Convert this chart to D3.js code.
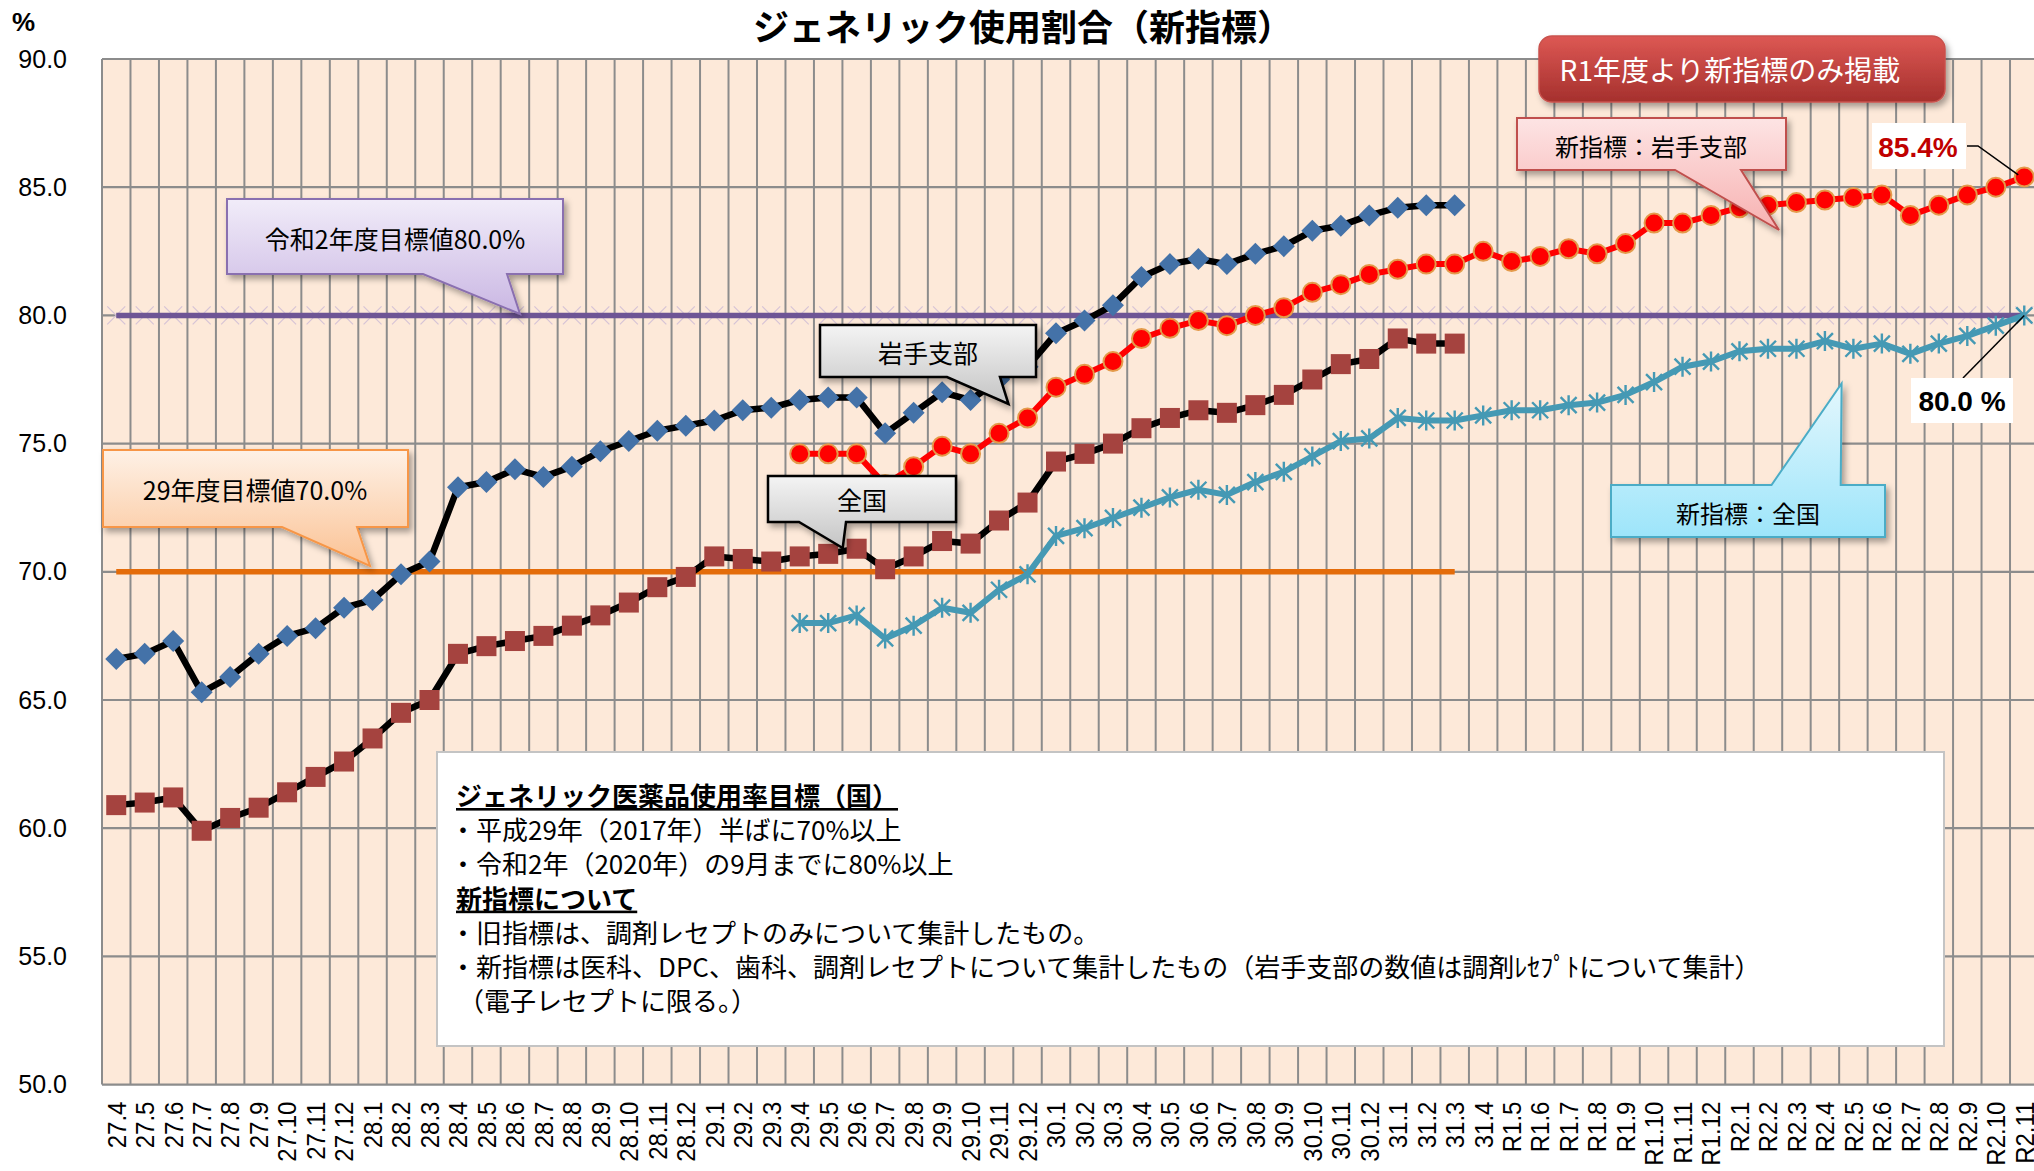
<!DOCTYPE html>
<html><head><meta charset="utf-8">
<script src="https://cdn.jsdelivr.net/npm/d3@7"></script>
<style>body{margin:0;background:#fff} svg{display:block}</style>
</head><body>
<svg id="chart" width="2034" height="1171"></svg>
<script>
// ---------------- DATA ----------------
const categories = [
  "27.4","27.5","27.6","27.7","27.8","27.9","27.10","27.11","27.12",
  "28.1","28.2","28.3","28.4","28.5","28.6","28.7","28.8","28.9","28.10","28.11","28.12",
  "29.1","29.2","29.3","29.4","29.5","29.6","29.7","29.8","29.9","29.10","29.11","29.12",
  "30.1","30.2","30.3","30.4","30.5","30.6","30.7","30.8","30.9","30.10","30.11","30.12",
  "31.1","31.2","31.3","31.4",
  "R1.5","R1.6","R1.7","R1.8","R1.9","R1.10","R1.11","R1.12",
  "R2.1","R2.2","R2.3","R2.4","R2.5","R2.6","R2.7","R2.8","R2.9","R2.10","R2.11"
];
// 旧指標 岩手支部 (27.4 - 31.3)
const iwateOld = [
  66.6,66.8,67.3,65.3,65.9,66.8,67.5,67.8,68.6,
  68.9,69.9,70.4,73.3,73.5,74.0,73.7,74.1,74.7,75.1,75.5,75.7,
  75.9,76.3,76.4,76.7,76.8,76.8,75.4,76.2,77.0,76.7,77.5,78.0,
  79.3,79.8,80.4,81.5,82.0,82.2,82.0,82.4,82.7,83.3,83.5,83.9,
  84.2,84.3,84.3
];
// 旧指標 全国 (27.4 - 31.3)
const nationalOld = [
  60.9,61.0,61.2,59.9,60.4,60.8,61.4,62.0,62.6,
  63.5,64.5,65.0,66.8,67.1,67.3,67.5,67.9,68.3,68.8,69.4,69.8,
  70.6,70.5,70.4,70.6,70.7,70.9,70.1,70.6,71.2,71.1,72.0,72.7,
  74.3,74.6,75.0,75.6,76.0,76.3,76.2,76.5,76.9,77.5,78.1,78.3,
  79.1,78.9,78.9
];
// 新指標 岩手支部 (29.4 - R2.11)
const iwateNew = [
  74.6,74.6,74.6,73.4,74.1,74.9,74.6,75.4,76.0,
  77.2,77.7,78.2,79.1,79.5,79.8,79.6,80.0,80.3,80.9,81.2,81.6,
  81.8,82.0,82.0,82.5,
  82.1,82.3,82.6,82.4,82.8,83.6,83.6,83.9,
  84.2,84.3,84.4,84.5,84.6,84.7,83.9,84.3,84.7,85.0,85.4
];
// 新指標 全国 (29.4 - R2.11)
const nationalNew = [
  68.0,68.0,68.3,67.4,67.9,68.6,68.4,69.3,69.9,
  71.4,71.7,72.1,72.5,72.9,73.2,73.0,73.5,73.9,74.5,75.1,75.2,
  76.0,75.9,75.9,76.1,
  76.3,76.3,76.5,76.6,76.9,77.4,78.0,78.2,
  78.6,78.7,78.7,79.0,78.7,78.9,78.5,78.9,79.2,79.6,80.0
];
const oldStart = "27.4";
const newStart = "29.4";
const target80 = {value: 80.0, from: "27.4", to: "R2.11"};
const target70 = {value: 70.0, from: "27.4", to: "31.3"};
const yTicks = [50,55,60,65,70,75,80,85,90];
const titleText = "ジェネリック使用割合（新指標）";
const noteLines = [
  {t:"ジェネリック医薬品使用率目標（国）", bold:true},
  {t:"・平成29年（2017年）半ばに70%以上"},
  {t:"・令和2年（2020年）の9月までに80%以上"},
  {t:"新指標について", bold:true},
  {t:"・旧指標は、調剤レセプトのみについて集計したもの。"},
  {t:"・新指標は医科、DPC、歯科、調剤レセプトについて集計したもの（岩手支部の数値は調剤ﾚｾﾌﾟﾄについて集計）"},
  {t:"（電子レセプトに限る。）", indent:true}
];

// ---------------- CHART ----------------
const svg = d3.select("#chart");
const plot = {left:102, right:2038.5, top:59, bottom:1084.6};
const x = d3.scaleBand().domain(categories).range([plot.left, plot.right]);
const cx = c => x(c) + x.bandwidth()/2;
const y = d3.scaleLinear().domain([50,90]).range([plot.bottom, plot.top]);
const JP = "'Noto Sans CJK JP','Noto Sans',sans-serif";
const LAT = "'Liberation Sans',Arial,sans-serif";

const defs = svg.append("defs");
function grad(id, c1, c2){
  const g = defs.append("linearGradient").attr("id",id).attr("x1",0).attr("y1",0).attr("x2",0).attr("y2",1);
  g.append("stop").attr("offset","0%").attr("stop-color",c1);
  g.append("stop").attr("offset","100%").attr("stop-color",c2);
}
grad("gPurple","#f1ecf9","#cab7e3");
grad("gOrange","#fef1e6","#fbc294");
grad("gGray","#f4f4f4","#c4c4c4");
grad("gPink","#fde4e4","#f7b1b1");
grad("gCyan","#e4f7fd","#9de5fa");
grad("gRed","#dd5854","#a5302d");
const f = defs.append("filter").attr("id","shadow").attr("x","-10%").attr("y","-10%").attr("width","130%").attr("height","140%");
f.append("feDropShadow").attr("dx",3).attr("dy",4).attr("stdDeviation",3).attr("flood-color","#000").attr("flood-opacity",0.35);

// background
svg.append("rect").attr("x",plot.left).attr("y",plot.top)
  .attr("width",plot.right-plot.left).attr("height",plot.bottom-plot.top).attr("fill","#fde9d9");

// grid
const vx = categories.map(c => x(c)).concat([plot.right]);
svg.append("g").selectAll("line").data(vx).join("line")
  .attr("x1",d=>d).attr("x2",d=>d).attr("y1",plot.top).attr("y2",plot.bottom)
  .attr("stroke","#8c8c8c").attr("stroke-width",2);
svg.append("g").selectAll("line").data(yTicks).join("line")
  .attr("x1",plot.left).attr("x2",plot.right).attr("y1",d=>y(d)).attr("y2",d=>y(d))
  .attr("stroke","#8c8c8c").attr("stroke-width",2.2);

// axes
const yAxis = svg.append("g").attr("transform",`translate(${plot.left},0)`)
  .call(d3.axisLeft(y).tickValues(yTicks).tickFormat(d3.format(".1f")).tickSize(0).tickPadding(35));
yAxis.select(".domain").remove();
yAxis.selectAll("text").attr("font-family",LAT).attr("font-size",25).attr("fill","#000");

const xAxis = svg.append("g").attr("transform",`translate(0,${plot.bottom})`)
  .call(d3.axisBottom(x).tickSize(0).tickPadding(0));
xAxis.select(".domain").remove();
xAxis.selectAll("text")
  .attr("x",0).attr("y",0).attr("dy","0.36em")
  .attr("transform","translate(0,17) rotate(-90) scale(1,1.08)")
  .attr("text-anchor","end")
  .attr("font-family",LAT).attr("font-size",24).attr("fill","#000");

// % label and title
svg.append("text").attr("x",12).attr("y",31).text("%")
  .attr("font-family",LAT).attr("font-weight","bold").attr("font-size",26);
svg.append("text").attr("x",1023).attr("y",41).attr("text-anchor","middle").text(titleText)
  .attr("font-family",JP).attr("font-weight","bold").attr("font-size",36);

// target lines
function rangeCats(from,to){ const a=categories.indexOf(from), b=categories.indexOf(to); return categories.slice(a,b+1); }
const t80cats = rangeCats(target80.from, target80.to);
const xm = svg.append("g").attr("stroke","#d6c3d6").attr("stroke-width",1.2);
t80cats.forEach(c => {
  const px = cx(c), py = y(target80.value);
  xm.append("line").attr("x1",px-9).attr("y1",py-9).attr("x2",px+9).attr("y2",py+9);
  xm.append("line").attr("x1",px-9).attr("y1",py+9).attr("x2",px+9).attr("y2",py-9);
});
const line = d3.line().x(d=>cx(d.c)).y(d=>y(d.v));
svg.append("path").datum(t80cats.map(c=>({c, v:target80.value})))
  .attr("d",line).attr("fill","none").attr("stroke","#6e5595").attr("stroke-width",5.5);
svg.append("path").datum(rangeCats(target70.from,target70.to).map(c=>({c, v:target70.value})))
  .attr("d",line).attr("fill","none").attr("stroke","#e46c0a").attr("stroke-width",5.5);

function toPts(arr, start){ const s = categories.indexOf(start); return arr.map((v,i)=>({c:categories[s+i], v})); }

// 新指標 全国
const nn = toPts(nationalNew, newStart);
svg.append("path").datum(nn).attr("d",line).attr("fill","none").attr("stroke","#4599b4").attr("stroke-width",6).attr("stroke-linejoin","round");
const star = svg.append("g").attr("stroke","#4599b4").attr("stroke-width",2.4);
nn.forEach(d => {
  const px=cx(d.c), py=y(d.v);
  star.append("path").attr("d",`M${px-8},${py-8}L${px+8},${py+8}M${px-8},${py+8}L${px+8},${py-8}M${px},${py-10}L${px},${py+10}`);
});

// 旧指標 全国
const no = toPts(nationalOld, oldStart);
svg.append("path").datum(no).attr("d",line).attr("fill","none").attr("stroke","#000").attr("stroke-width",6.5).attr("stroke-linejoin","round");
svg.append("g").selectAll("rect").data(no).join("rect")
  .attr("x",d=>cx(d.c)-10).attr("y",d=>y(d.v)-10).attr("width",20).attr("height",20)
  .attr("fill","#a5433f");

// 新指標 岩手支部
const ine = toPts(iwateNew, newStart);
svg.append("path").datum(ine).attr("d",line).attr("fill","none").attr("stroke","#ff0000").attr("stroke-width",6).attr("stroke-linejoin","round");
svg.append("g").selectAll("circle").data(ine).join("circle")
  .attr("cx",d=>cx(d.c)).attr("cy",d=>y(d.v)).attr("r",9.5)
  .attr("fill","#ff0000").attr("stroke","#e49a4a").attr("stroke-width",2);

// 旧指標 岩手支部
const io = toPts(iwateOld, oldStart);
svg.append("path").datum(io).attr("d",line).attr("fill","none").attr("stroke","#000").attr("stroke-width",6.5).attr("stroke-linejoin","round");
svg.append("g").selectAll("path").data(io).join("path")
  .attr("d",d=>{const px=cx(d.c), py=y(d.v); return `M${px},${py-11}L${px+11},${py}L${px},${py+11}L${px-11},${py}Z`;})
  .attr("fill","#4472a8");

// note box
const nb = svg.append("g");
nb.append("rect").attr("x",437).attr("y",752).attr("width",1507).attr("height",294)
  .attr("fill","#fff").attr("stroke","#c4c4c4").attr("stroke-width",2);
noteLines.forEach((l,i) => {
  nb.append("text").attr("x", l.bold ? 456 : (l.indent ? 458 : 450)).attr("y", 806 + i*34.2)
    .text(l.t).attr("font-family",JP).attr("font-size",26)
    .attr("font-weight", l.bold ? "bold" : "normal")
    .attr("text-decoration", l.bold ? "underline" : null)
    .attr("fill","#000");
});

// callouts
function callout(o){
  const [x0,y0,x1,y1] = o.box;
  const [a,tip,b] = o.tail;
  let d;
  if (o.side === "bottom") d = `M${x0},${y0}H${x1}V${y1}H${b[0]}L${tip[0]},${tip[1]}L${a[0]},${y1}H${x0}Z`;
  else d = `M${x0},${y0}H${a[0]}L${tip[0]},${tip[1]}L${b[0]},${y0}H${x1}V${y1}H${x0}Z`;
  const g = svg.append("g");
  g.append("path").attr("d",d).attr("fill",`url(#${o.fill})`).attr("stroke",o.stroke)
    .attr("stroke-width",o.sw||2).attr("stroke-linejoin","miter").attr("filter","url(#shadow)");
  g.append("text").attr("x",o.tx).attr("y",o.ty).attr("text-anchor","middle").attr("dominant-baseline","central")
    .text(o.text).attr("font-family",JP).attr("font-size",o.fs||25).attr("fill","#000");
}
callout({box:[227,199,563,274], tail:[[423,274],[520,314],[507,274]], side:"bottom", fill:"gPurple", stroke:"#8a6fb0",
  text:"令和2年度目標値80.0%", tx:395, ty:238});
callout({box:[103,450,408,527], tail:[[282,527],[370,566],[357,527]], side:"bottom", fill:"gOrange", stroke:"#f79646",
  text:"29年度目標値70.0%", tx:255, ty:489});
callout({box:[820,325,1036,377], tail:[[947,377],[1008.5,404],[1000,377]], side:"bottom", fill:"gGray", stroke:"#000", sw:2.5,
  text:"岩手支部", tx:928, ty:352});
callout({box:[768,476,956,522], tail:[[799,522],[842.7,548],[846,522]], side:"bottom", fill:"gGray", stroke:"#000", sw:2.5,
  text:"全国", tx:862, ty:499});
callout({box:[1517,118,1786,170], tail:[[1675,170],[1779,230],[1741,170]], side:"bottom", fill:"gPink", stroke:"#c0504d",
  text:"新指標：岩手支部", tx:1651, ty:145, fs:24});
callout({box:[1611,485,1885,537], tail:[[1771.5,485],[1841.6,383.5],[1840.7,485]], side:"top", fill:"gCyan", stroke:"#4bacc6",
  text:"新指標：全国", tx:1748, ty:512, fs:24});

// R1 banner
const r1 = svg.append("g");
r1.append("rect").attr("x",1539).attr("y",36).attr("width",406).attr("height",66).attr("rx",13)
  .attr("fill","url(#gRed)").attr("stroke","#c9524e").attr("stroke-width",1.5).attr("filter","url(#shadow)");
r1.append("text").attr("x",1730).attr("y",69).attr("text-anchor","middle").attr("dominant-baseline","central")
  .text("R1年度より新指標のみ掲載").attr("font-family",JP).attr("font-size",28).attr("fill","#fff");

// value labels
const lastCat = categories[categories.length-1];
const lastIw = iwateNew[iwateNew.length-1], lastNa = nationalNew[nationalNew.length-1];
svg.append("path").attr("d",`M1967,146H1978L${cx(lastCat)-6},${y(lastIw)-2}`).attr("fill","none").attr("stroke","#000").attr("stroke-width",1.5);
svg.append("rect").attr("x",1872).attr("y",123).attr("width",94).attr("height",46).attr("fill","#fff");
svg.append("text").attr("x",1918).attr("y",147).attr("text-anchor","middle").attr("dominant-baseline","central")
  .text(lastIw.toFixed(1)+"%").attr("font-family",LAT).attr("font-weight","bold").attr("font-size",28).attr("fill","#c00000");
svg.append("path").attr("d",`M1963,378L${cx(lastCat)},${y(lastNa)}`).attr("fill","none").attr("stroke","#000").attr("stroke-width",1.5);
svg.append("rect").attr("x",1911).attr("y",378).attr("width",102).attr("height",45).attr("fill","#fff");
svg.append("text").attr("x",1962).attr("y",401).attr("text-anchor","middle").attr("dominant-baseline","central")
  .text(lastNa.toFixed(1)+" %").attr("font-family",LAT).attr("font-weight","bold").attr("font-size",28).attr("fill","#000");
</script>
</body></html>
